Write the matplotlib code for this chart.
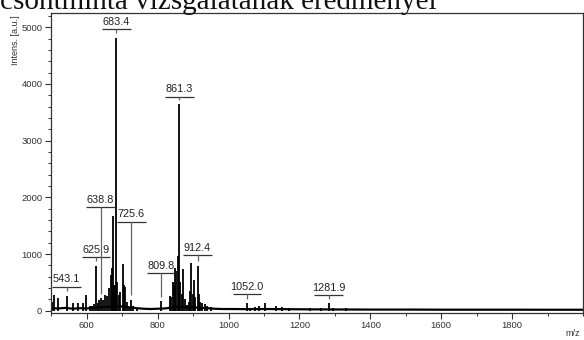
#!/usr/bin/env python3
"""
Csontminta MALDI tömegspektrum újrarajzolása
"""
import matplotlib
matplotlib.use('Agg')
import matplotlib.pyplot as plt
from matplotlib.ticker import MultipleLocator, FixedLocator

plt.rcParams['font.family'] = ['Liberation Sans', 'DejaVu Sans']

TITLE = 'csontminta vizsgálatának eredményei'

# csúcsok: m/z és intenzitás
peak_mz = [501, 508, 520, 543.6, 560, 576, 589, 597,
           608, 615, 620, 625.9, 631, 635.6, 638.8, 645, 650, 656, 663,
           668, 671, 673, 677, 680.7, 683.4, 686, 690, 694, 701.5, 705, 708,
           712, 718, 725.6, 730, 741,
           809.8, 835, 838, 842.6, 845, 848, 851, 857.6, 861.3, 864, 868,
           871, 876, 882, 888, 892, 895, 899, 902, 906, 912.4, 916, 920,
           925, 932, 940, 950,
           1052, 1060, 1075, 1085, 1103, 1135, 1150, 1170, 1230, 1260,
           1281.9, 1295, 1330]
peak_int = [160, 275, 220, 265, 140, 135, 135, 275,
            80, 90, 110, 790, 130, 190, 220, 190, 275, 260, 400,
            630, 750, 1670, 450, 450, 4810, 500, 280, 335, 820, 450, 420,
            150, 60, 190, 80, 50,
            170, 260, 240, 510, 450, 750, 700, 960, 3640, 500, 300,
            735, 200, 100, 150, 350, 840, 300, 540, 250, 790, 300, 150,
            130, 120, 80, 60,
            130, 50, 60, 80, 130, 90, 60, 50, 40, 50,
            130, 50, 50]

# alapvonal zaj
base_mz = [498, 520, 540, 560, 580, 600, 620, 640, 660, 680, 700, 720, 740,
           760, 780, 800, 820, 840, 860, 880, 900, 920, 940, 960, 980, 1000,
           1050, 1100, 1150, 1200, 1300, 1400, 1500, 1600, 1700, 1800, 1900,
           2000]
base_int = [45, 40, 50, 35, 45, 40, 55, 60, 70, 80, 75, 60, 45,
            35, 30, 35, 40, 55, 70, 65, 60, 50, 45, 35, 30, 30,
            28, 30, 28, 25, 22, 20, 20, 18, 18, 18, 17,
            17]

# feliratozott csúcsok
label_mz = [543.1, 625.9, 638.8, 683.4, 725.6, 809.8, 861.3, 912.4, 1052.0, 1281.9]
label_y = [423, 947, 1823, 4962, 1570, 660, 3774, 982, 289, 277]
label_end = [345, 870, 300, 4890, 270, 250, 3720, 870, 210, 210]

x_ticks = [600, 800, 1000, 1200, 1400, 1600, 1800]


def plot_spectrum():
    fig = plt.figure(figsize=(5.84, 3.40), dpi=100)
    ax = fig.add_axes([0.0868, 0.0803, 0.9115, 0.8829])

    ax.plot(base_mz, base_int, color='black', linewidth=1.6)
    ax.vlines(peak_mz, 0, peak_int, color='black', linewidth=1.3)

    for mz, ly, le in zip(label_mz, label_y, label_end):
        ax.hlines(ly, mz - 40, mz + 40, color='#333333', linewidth=0.9)
        ax.vlines(mz, le, ly, color='#666666', linewidth=0.9)
        ax.text(mz, ly + 40, f'{mz:.1f}', ha='center', va='bottom',
                fontsize=7.8, color='#222222')

    ax.set_xlim(498, 2000)
    ax.set_ylim(-35, 5260)
    ax.xaxis.set_major_locator(FixedLocator(x_ticks))
    ax.xaxis.set_minor_locator(MultipleLocator(100))
    ax.yaxis.set_major_locator(MultipleLocator(1000))
    ax.yaxis.set_minor_locator(MultipleLocator(200))
    ax.tick_params(which='major', length=4, width=0.8, color='#333333',
                   labelsize=6.8, labelcolor='#333333', pad=2)
    ax.tick_params(which='minor', length=2.5, width=0.7, color='#333333')
    for sp in ax.spines.values():
        sp.set_color('#333333')
        sp.set_linewidth(0.9)

    fig.text(15 / 584, 1 - 40 / 340, 'Intens. [a.u.]', rotation=90,
             ha='center', va='center', fontsize=6.5, color='#333333')
    fig.text(573 / 584, 1 - 334 / 340, 'm/z', ha='center', va='center',
             fontsize=6.5, color='#333333')
    # a cím felső része a képen kívülre esik, mint az eredetin
    fig.text(0.0, 1 - 9 / 340, TITLE, ha='left', va='baseline', fontsize=21,
             family='Liberation Serif', color='#111111')

    fig.savefig('out.png', dpi=100)


if __name__ == '__main__':
    plot_spectrum()
